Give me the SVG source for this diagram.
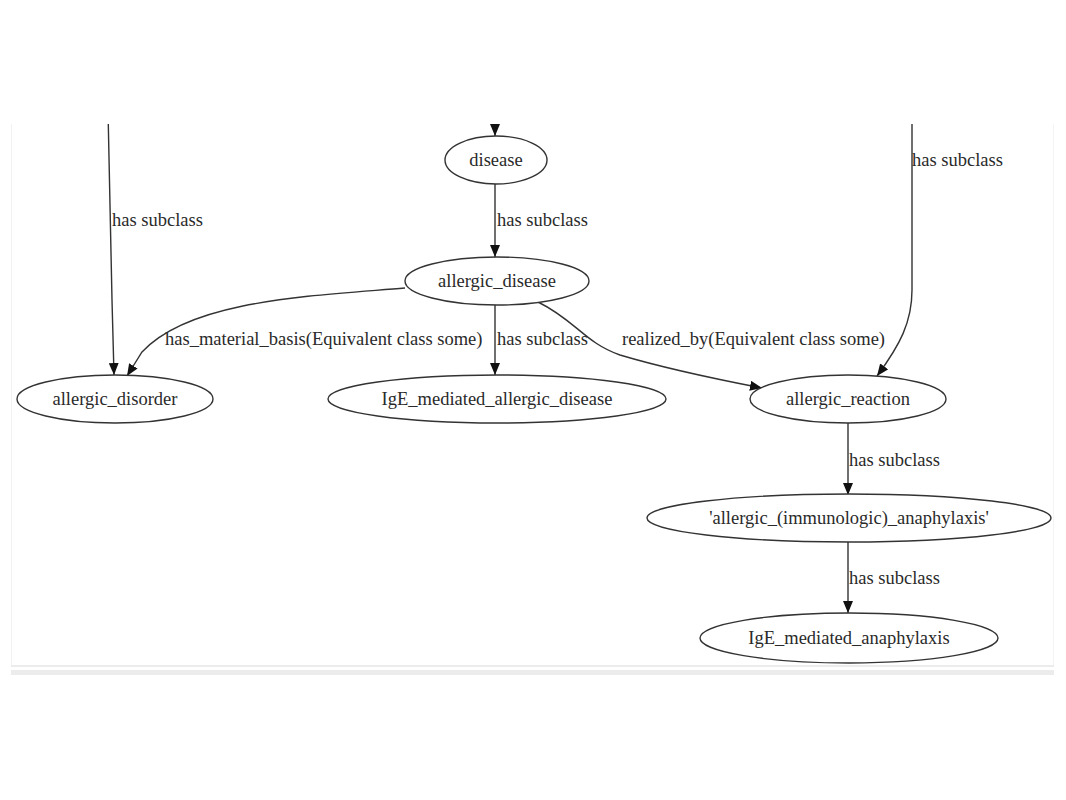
<svg xmlns="http://www.w3.org/2000/svg" width="1066" height="800" viewBox="0 0 1066 800">
<defs>
<style>
.node ellipse{fill:#fff;stroke:#333;stroke-width:1.4}
.node text{font-family:"Liberation Serif","Times New Roman",serif;font-size:18.5px;fill:#2a2a2a;text-anchor:middle}
.edge path{fill:none;stroke:#333;stroke-width:1.4}
.lbl{font-family:"Liberation Serif","Times New Roman",serif;font-size:18.5px;fill:#2a2a2a}
</style>
<marker id="ah" viewBox="0 0 12 10" refX="12" refY="5" markerWidth="12" markerHeight="10" markerUnits="userSpaceOnUse" orient="auto">
<path d="M0,0 L12,5 L0,10 Z" fill="#111"/>
</marker>
<clipPath id="panel"><rect x="11" y="124" width="1043" height="542"/></clipPath>
</defs>
<rect width="1066" height="800" fill="#fff"/>
<line x1="11.5" y1="124" x2="11.5" y2="666" stroke="#f2f2f2" stroke-width="1"/>
<line x1="1053.5" y1="124" x2="1053.5" y2="666" stroke="#f4f4f4" stroke-width="1"/>
<line x1="11" y1="666" x2="1054" y2="666" stroke="#e6e6e6" stroke-width="1.5"/>
<rect x="11" y="670" width="1043" height="5" fill="#ececec"/>
<g id="connectors" class="edge" clip-path="url(#panel)">
<path d="M495,100 L495,136" marker-end="url(#ah)"/>
<path d="M108,110 L112,300 L114,375" marker-end="url(#ah)"/>
<path d="M912,110 L912,290 C912,322 900,345 877,376" marker-end="url(#ah)"/>
<path d="M495,184 L495,257" marker-end="url(#ah)"/>
<path d="M405,288 C310,296 190,300 142,352 L127,376" marker-end="url(#ah)"/>
<path d="M495,305 L495,375" marker-end="url(#ah)"/>
<path d="M538,302 C575,320 585,343 620,355 C660,367 700,376 762,388" marker-end="url(#ah)"/>
<path d="M848,423 L848,495" marker-end="url(#ah)"/>
<path d="M848,542 L848,613" marker-end="url(#ah)"/>
</g>
<g id="edge-labels">
<text class="lbl" x="112" y="226">has subclass</text>
<text class="lbl" x="912" y="166">has subclass</text>
<text class="lbl" x="497" y="226">has subclass</text>
<text class="lbl" x="165" y="345">has_material_basis(Equivalent class some)</text>
<text class="lbl" x="497" y="345">has subclass</text>
<text class="lbl" x="622" y="345">realized_by(Equivalent class some)</text>
<text class="lbl" x="849" y="466">has subclass</text>
<text class="lbl" x="849" y="584">has subclass</text>
</g>
<g id="disease" class="node"><ellipse cx="496" cy="160" rx="51" ry="24"/><text x="496" y="166">disease</text></g>
<g id="allergic_disease" class="node"><ellipse cx="497" cy="281" rx="92" ry="24"/><text x="497" y="287">allergic_disease</text></g>
<g id="allergic_disorder" class="node"><ellipse cx="115" cy="399" rx="98" ry="24"/><text x="115" y="405">allergic_disorder</text></g>
<g id="IgE_mediated_allergic_disease" class="node"><ellipse cx="497" cy="399" rx="169" ry="24"/><text x="497" y="405">IgE_mediated_allergic_disease</text></g>
<g id="allergic_reaction" class="node"><ellipse cx="848" cy="399" rx="98" ry="24"/><text x="848" y="405">allergic_reaction</text></g>
<g id="allergic_immunologic_anaphylaxis" class="node"><ellipse cx="849" cy="518" rx="202" ry="24"/><text x="849" y="524">'allergic_(immunologic)_anaphylaxis'</text></g>
<g id="IgE_mediated_anaphylaxis" class="node"><ellipse cx="849" cy="638" rx="149" ry="25"/><text x="849" y="644">IgE_mediated_anaphylaxis</text></g>
</svg>
